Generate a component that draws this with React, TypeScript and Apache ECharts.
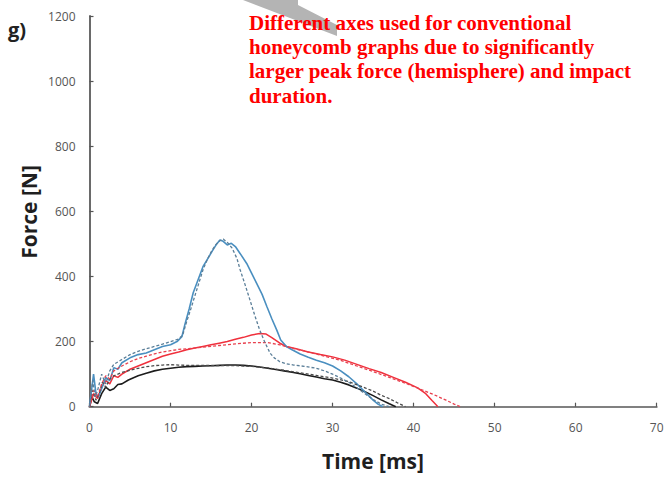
import React, { useEffect, useRef } from "react";
import * as echarts from "echarts";

// ---- Data (time in ms, force in N) ----
const blueSolidT = [0, 0.3, 0.5, 0.8, 1.1, 1.5, 2.0, 2.5, 3.0, 3.5, 4.0, 5.0, 6.0, 7.0, 8.0, 9.0, 10.0, 10.8, 11.4, 11.8, 12.3, 12.8, 13.4, 14.0, 14.6, 15.2, 15.7, 16.1, 16.5, 17.0, 17.5, 18.0, 18.6, 19.4, 20.0, 20.6, 21.3, 21.9, 22.5, 23.1, 23.6, 24.3, 25.0, 26.0, 27.0, 28.0, 29.0, 30.0, 31.0, 32.0, 33.0, 34.0, 35.0, 35.6, 36.2];
const blueSolidF = [0, 60, 100, 40, 30, 55, 90, 80, 120, 115, 135, 150, 160, 165, 175, 185, 190, 200, 215, 255, 300, 350, 390, 430, 455, 480, 500, 512, 508, 497, 502, 492, 470, 440, 410, 380, 345, 307, 270, 236, 205, 185, 175, 162, 152, 143, 135, 125, 110, 92, 70, 45, 20, 8, 0];

const blueDashT = [0, 0.4, 0.7, 1.0, 1.5, 2.0, 2.5, 3.0, 4.0, 5.0, 6.0, 7.0, 8.0, 9.0, 10.0, 11.0, 11.5, 12.0, 12.5, 13.0, 13.5, 14.0, 14.5, 15.0, 15.5, 16.0, 16.5, 17.0, 17.6, 18.2, 18.6, 19.2, 19.8, 20.4, 21.0, 21.6, 22.3, 22.8, 23.5, 24.3, 25.2, 26.5, 28.0, 29.0, 30.0, 31.0, 32.0, 33.0, 34.0, 35.0, 36.0, 37.0];
const blueDashF = [0, 80, 30, 50, 100, 70, 110, 130, 145, 160, 170, 178, 185, 192, 200, 208, 220, 262, 300, 340, 380, 420, 450, 475, 495, 508, 515, 505, 487, 455, 420, 375, 328, 280, 236, 200, 164, 150, 138, 132, 128, 124, 118, 110, 100, 88, 75, 58, 40, 22, 8, 0];

const redSolidT = [0, 0.5, 1.0, 1.5, 2.0, 2.5, 3.0, 3.5, 4.0, 5.0, 6.0, 7.0, 8.0, 9.0, 10.0, 11.0, 12.0, 13.0, 14.0, 15.0, 16.0, 17.0, 18.0, 19.0, 20.0, 21.0, 21.8, 22.5, 23.5, 24.3, 25.5, 27.0, 28.5, 30.0, 31.5, 33.0, 34.5, 36.0, 37.5, 39.0, 40.5, 41.5, 42.3, 43.0];
const redSolidF = [0, 40, 25, 60, 80, 70, 95, 90, 100, 115, 125, 135, 145, 155, 162, 168, 175, 180, 185, 190, 195, 200, 207, 213, 220, 225, 223, 212, 195, 185, 178, 168, 160, 153, 143, 130, 117, 105, 90, 75, 58, 40, 18, 0];

const redDashT = [0, 0.5, 1.0, 1.5, 2.0, 2.5, 3.0, 4.0, 5.0, 6.0, 7.0, 8.0, 9.0, 10.0, 11.0, 12.0, 14.0, 16.0, 18.0, 20.0, 22.0, 23.5, 25.0, 27.0, 29.0, 31.0, 33.0, 35.0, 37.0, 39.0, 41.0, 42.5, 44.0, 45.0, 45.8];
const redDashF = [0, 50, 30, 70, 95, 85, 110, 125, 138, 148, 155, 162, 168, 172, 176, 178, 183, 188, 193, 197, 197, 190, 180, 168, 155, 142, 125, 108, 90, 72, 52, 37, 20, 8, 0];

const blackSolidT = [0, 0.3, 0.6, 1.0, 1.5, 2.0, 2.5, 3.0, 3.5, 4.0, 4.8, 6.0, 7.0, 8.0, 9.0, 10.0, 11.0, 12.0, 13.0, 14.0, 15.0, 16.0, 17.0, 18.0, 19.0, 20.0, 21.0, 22.0, 23.0, 24.0, 25.0, 26.0, 27.0, 28.0, 29.0, 30.0, 31.0, 32.0, 33.0, 34.0, 35.0, 36.0, 37.0, 37.8];
const blackSolidF = [0, 30, 15, 10, 40, 60, 50, 55, 68, 70, 82, 95, 103, 110, 115, 118, 121, 123, 124, 125, 126, 127, 128, 128, 127, 125, 122, 118, 114, 110, 106, 101, 96, 91, 86, 82, 75, 67, 57, 46, 34, 21, 9, 0];

const blackDashT = [0, 0.4, 0.8, 1.2, 1.6, 2.0, 2.5, 3.0, 4.0, 5.0, 6.0, 7.0, 8.0, 9.0, 10.0, 11.0, 12.0, 14.0, 16.0, 18.0, 20.0, 22.0, 24.0, 26.0, 28.0, 30.0, 32.0, 34.0, 35.0, 36.0, 37.0, 38.0, 39.0];
const blackDashF = [0, 50, 20, 40, 75, 60, 85, 95, 105, 112, 118, 123, 126, 128, 129, 128, 127, 127, 126, 126, 124, 119, 112, 104, 96, 88, 77, 58, 48, 35, 25, 12, 0];

const xTicks = { min: 0, max: 70, interval: 10 };
const yTicks = { min: 0, max: 1200, interval: 200 };

const noteLines = [
  "Different axes used for conventional",
  "honeycomb graphs due to significantly",
  "larger peak force (hemisphere) and impact",
  "duration.",
];

const zip = (t: number[], f: number[]) => t.map((v, i) => [v, f[i]]);

export default function App() {
  const ref = useRef<HTMLDivElement>(null);
  useEffect(() => {
    document.body.style.margin = "0";
    if (!ref.current) return;
    const chart = echarts.init(ref.current, null, { renderer: "svg" });
    const mk = (name: string, t: number[], f: number[], color: string, dashed: boolean, width: number) => ({
      name,
      type: "line",
      data: zip(t, f),
      showSymbol: false,
      symbol: "none",
      smooth: false,
      lineStyle: { color, width, type: dashed ? [3, 2] : "solid" },
      z: dashed ? 3 : 2,
    });
    chart.setOption({
      animation: false,
      backgroundColor: "#ffffff",
      grid: { left: 89.5, right: 12.3, top: 16, bottom: 70.3, containLabel: false },
      xAxis: {
        type: "value",
        ...xTicks,
        axisLine: { show: true, lineStyle: { color: "#808080", width: 2 } },
        axisTick: { show: true, inside: true, length: 4, lineStyle: { color: "#555", width: 1.2 } },
        axisLabel: { color: "#555", fontSize: 12, fontFamily: "Open Sans", margin: 15, formatter: (v: number) => String(v) },
        splitLine: { show: false },
      },
      yAxis: {
        type: "value",
        ...yTicks,
        axisLine: { show: true, lineStyle: { color: "#6a6a6a", width: 2 } },
        axisTick: { show: true, inside: true, length: 4, lineStyle: { color: "#555", width: 1.2 } },
        axisLabel: { color: "#555", fontSize: 12, fontFamily: "Open Sans", margin: 14, formatter: (v: number) => String(v) },
        splitLine: { show: false },
      },
      series: [
        mk("Black solid", blackSolidT, blackSolidF, "#1c1c1c", false, 1.6),
        mk("Black dashed", blackDashT, blackDashF, "#4a4a4a", true, 1.3),
        mk("Red solid", redSolidT, redSolidF, "#f0303c", false, 1.5),
        mk("Red dashed", redDashT, redDashF, "#e8404e", true, 1.3),
        mk("Blue solid", blueSolidT, blueSolidF, "#4a8fc0", false, 1.6),
        mk("Blue dashed", blueDashT, blueDashF, "#5a7e98", true, 1.3),
      ],
      graphic: [
        {
          type: "polygon",
          shape: { points: [[243, 0], [298, 0], [298, 5], [337, 25], [337, 36]] },
          style: { fill: "#b4b4b4" },
          z: 1,
        },
        ...noteLines.map((line, i) => ({
          type: "text",
          left: 249,
          top: 12 + i * 24.4,
          style: {
            text: line,
            fill: "#ff0000",
            font: 'bold 21px "Liberation Serif"',
          },
          z: 10,
        })),
        {
          type: "text",
          left: 8,
          top: 19,
          style: { text: "g)", fill: "#222", font: 'bold 20px "Open Sans"' },
        },
        {
          type: "text",
          x: 373,
          y: 461,
          style: {
            text: "Time [ms]",
            fill: "#1f1f1f",
            font: 'bold 21px "Open Sans"',
            align: "center",
            verticalAlign: "middle",
          },
        },
        {
          type: "text",
          x: 29,
          y: 212,
          rotation: Math.PI / 2,
          style: {
            text: "Force [N]",
            fill: "#1f1f1f",
            font: 'bold 21px "Open Sans"',
            align: "center",
            verticalAlign: "middle",
          },
        },
      ],
    });
    return () => chart.dispose();
  }, []);
  return <div ref={ref} style={{ width: 669, height: 477 }} />;
}
